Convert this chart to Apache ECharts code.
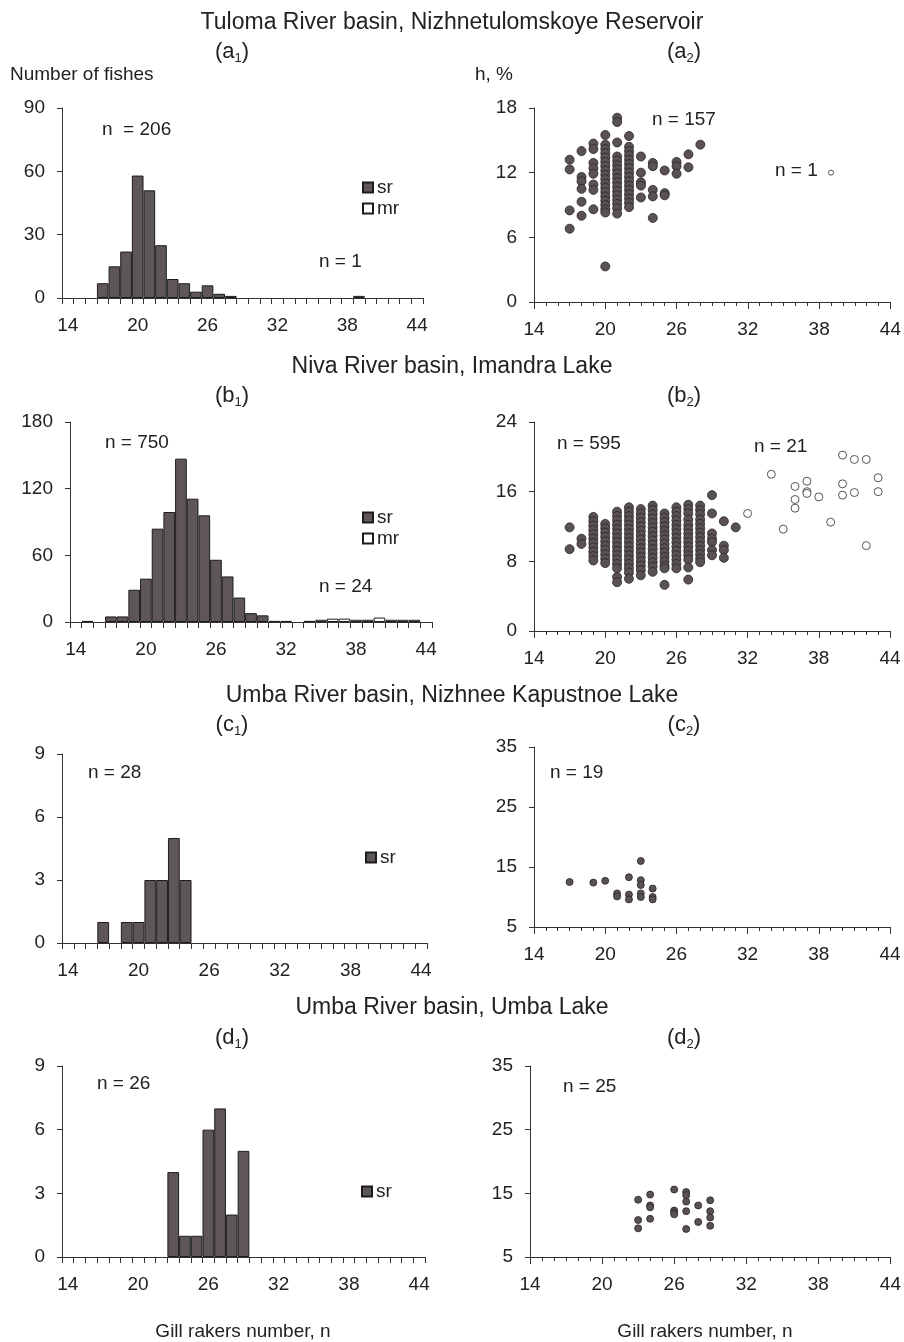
<!DOCTYPE html>
<html>
<head>
<meta charset="utf-8">
<script src="https://cdn.jsdelivr.net/npm/echarts@6/dist/echarts.min.js"></script>
<style>
html, body { margin: 0; background: #fff; }
#chart { width: 904px; height: 1342px; }
</style>
</head>
<body>
<div id="chart"></div>
<script>
// gill rakers number categories (histogram x axis)
const rakers = ['14', '15', '16', '17', '18', '19', '20', '21', '22', '23', '24', '25', '26', '27', '28', '29',
    '30', '31', '32', '33', '34', '35', '36', '37', '38', '39', '40', '41', '42', '43', '44']
const xTickLabels = [14, 20, 26, 32, 38, 44]

// histograms: [gill rakers, number of fishes]
const a1Sr = [[17, 7], [18, 15], [19, 22], [20, 58], [21, 51], [22, 25], [23, 9], [24, 7], [25, 3], [26, 6], [27, 2], [28, 1]]
const a1Mr = [[39, 1]]
const b1Sr = [[15, 1], [17, 5], [18, 5], [19, 29], [20, 39], [21, 84], [22, 99], [23, 147], [24, 111], [25, 96],
    [26, 56], [27, 41], [28, 22], [29, 8], [30, 6]]
const b1Mr = [[31, 1], [32, 1], [34, 1], [35, 2], [36, 3], [37, 3], [38, 2], [39, 2], [40, 4], [41, 2], [42, 2], [43, 2]]
const c1Sr = [[17, 1], [19, 1], [20, 1], [21, 3], [22, 3], [23, 5], [24, 3]]
const d1Sr = [[23, 4], [24, 1], [25, 1], [26, 6], [27, 7], [28, 2], [29, 5]]

// scatter: [gill rakers, h %] grouped by gill rakers number
const a2SrCols = [
    [17, [13.2, 12.3, 8.5, 6.8]],
    [18, [14.0, 11.6, 11.2, 10.5, 9.3, 8.0]],
    [19, [14.7, 14.2, 12.9, 12.4, 11.9, 10.9, 10.4, 8.6]],
    [20, [15.5, 14.6, 14.2, 13.8, 13.4, 13.0, 12.6, 12.2, 11.8, 11.4, 11.0, 10.6, 10.2, 9.8, 9.4, 9.0, 8.6, 8.3, 3.3]],
    [21, [17.1, 16.7, 14.8, 13.5, 13.1, 12.7, 12.3, 11.9, 11.5, 11.1, 10.7, 10.3, 9.9, 9.5, 9.1, 8.7, 8.2]],
    [22, [15.4, 14.4, 14.0, 13.6, 13.2, 12.8, 12.4, 12.0, 11.6, 11.2, 10.8, 10.4, 10.0, 9.6, 9.2, 8.8]],
    [23, [13.5, 12.0, 11.1, 10.8, 9.7]],
    [24, [12.9, 12.6, 10.4, 9.8, 7.8]],
    [25, [12.2, 10.1, 9.9]],
    [26, [13.0, 12.6, 11.9]],
    [27, [13.7, 12.5]],
    [28, [14.6]]
]
const a2Mr = [[39, 12.0]]

const b2SrCols = [
    [17, [11.9, 9.4]],
    [18, [10.6, 10.0]],
    [19, [13.1, 12.6, 12.1, 11.6, 11.1, 10.6, 10.1, 9.6, 9.1, 8.6, 8.1]],
    [20, [12.3, 11.8, 11.3, 10.8, 10.3, 9.8, 9.3, 8.8, 8.3, 7.8]],
    [21, [13.7, 13.2, 12.7, 12.2, 11.7, 11.2, 10.7, 10.2, 9.7, 9.2, 8.7, 8.2, 7.7, 7.2, 6.2, 5.6]],
    [22, [14.2, 13.7, 13.2, 12.7, 12.2, 11.7, 11.2, 10.7, 10.2, 9.7, 9.2, 8.7, 8.2, 7.7, 7.2, 6.7, 6.0]],
    [23, [14.0, 13.5, 13.0, 12.5, 12.0, 11.5, 11.0, 10.5, 10.0, 9.5, 9.0, 8.5, 8.0, 7.5, 7.0, 6.4]],
    [24, [14.4, 13.9, 13.4, 12.9, 12.4, 11.9, 11.4, 10.9, 10.4, 9.9, 9.4, 8.9, 8.4, 7.9, 7.4, 6.8]],
    [25, [13.5, 13.0, 12.5, 12.0, 11.5, 11.0, 10.5, 10.0, 9.5, 9.0, 8.5, 8.0, 7.5, 7.2, 5.3]],
    [26, [14.2, 13.7, 13.2, 12.7, 12.2, 11.7, 11.2, 10.7, 10.2, 9.7, 9.2, 8.7, 8.2, 7.7, 7.2]],
    [27, [14.5, 14.0, 13.5, 12.8, 12.2, 11.7, 11.2, 10.7, 10.2, 9.7, 9.2, 8.7, 8.2, 7.3, 5.9]],
    [28, [14.4, 13.9, 13.4, 12.8, 12.3, 11.8, 11.3, 10.8, 10.3, 9.8, 9.3, 8.8, 8.3, 7.9]],
    [29, [15.6, 13.5, 11.2, 10.6, 10.2, 9.3, 8.7]],
    [30, [12.6, 9.8, 9.3, 8.4]],
    [31, [11.9]]
]
const b2Mr = [[32, 13.5], [34, 18.0], [35, 11.7], [36, 16.6], [36, 15.1], [36, 14.1], [37, 17.2], [37, 16.0],
    [37, 15.8], [38, 15.4], [39, 12.5], [40, 20.2], [40, 16.9], [40, 15.6], [41, 19.7], [41, 15.9], [42, 19.7],
    [42, 9.8], [43, 17.6], [43, 16.0]]

const c2Sr = [[17, 12.5], [19, 12.4], [20, 12.7], [21, 10.6], [21, 10.1], [22, 13.3], [22, 10.4], [22, 9.6],
    [23, 16.0], [23, 12.8], [23, 12.0], [23, 10.6], [23, 10.0], [24, 11.4], [24, 10.0], [24, 9.6]]
const d2Sr = [[23, 14.0], [23, 10.8], [23, 9.5], [24, 14.8], [24, 13.1], [24, 12.8], [24, 11.0], [26, 15.6],
    [26, 12.3], [26, 12.0], [26, 11.7], [27, 15.2], [27, 14.7], [27, 13.7], [27, 12.2], [27, 9.4], [28, 13.1],
    [28, 10.5], [29, 13.9], [29, 12.2], [29, 11.2], [29, 9.9]]

const FONT = '"Liberation Sans", Arial, sans-serif'
const INK = '#222'
const AXIS = '#333'
const FILL = '#5f5757'
const EDGE = '#1c1c1c'

function flatCols(cols) {
    const out = []
    cols.forEach(([n, hs]) => hs.forEach(h => out.push([n, h])))
    return out
}

function histCounts(pairs) {
    const out = rakers.map(() => null)
    pairs.forEach(([n, c]) => {
        out[rakers.indexOf(String(n))] = c
    })
    return out
}

const allInts = []
for (let v = 14; v <= 44; v++) allInts.push(v)

// panel layout
const hists = [
    { grid: { left: 62, top: 108, width: 361, height: 190 }, yMax: 90, yStep: 30, sr: a1Sr, mr: a1Mr },
    { grid: { left: 70, top: 422, width: 362, height: 200 }, yMax: 180, yStep: 60, sr: b1Sr, mr: b1Mr },
    { grid: { left: 62, top: 754, width: 365, height: 189 }, yMax: 9, yStep: 3, sr: c1Sr, mr: null },
    { grid: { left: 62, top: 1066, width: 363, height: 191 }, yMax: 9, yStep: 3, sr: d1Sr, mr: null }
]
const scatters = [
    { grid: { left: 534, top: 108, width: 357, height: 194 }, yTicks: [0, 6, 12, 18], sr: flatCols(a2SrCols), mr: a2Mr, size: 9, mrSize: 5 },
    { grid: { left: 534, top: 422, width: 356, height: 209 }, yTicks: [0, 8, 16, 24], sr: flatCols(b2SrCols), mr: b2Mr, size: 9, mrSize: 8 },
    { grid: { left: 534, top: 747, width: 356, height: 180 }, yTicks: [5, 15, 25, 35], sr: c2Sr, mr: null, size: 7 },
    { grid: { left: 530, top: 1066, width: 362, height: 191 }, yTicks: [5, 15, 25, 35], sr: d2Sr, mr: null, size: 7 }
]

const labelStyle = { fontSize: 19, color: INK, fontFamily: FONT }
const grid = [], xAxis = [], yAxis = [], series = []

hists.forEach(p => {
    const gi = grid.length
    grid.push(p.grid)
    xAxis.push({
        gridIndex: gi, type: 'category', data: rakers, boundaryGap: true,
        axisLine: { show: true, lineStyle: { color: AXIS } },
        axisTick: { show: true, interval: 0, length: 6, lineStyle: { color: AXIS, width: 1 } },
        axisLabel: Object.assign({ interval: 5, margin: 18 }, labelStyle)
    })
    yAxis.push({
        gridIndex: gi, type: 'value', min: 0, max: p.yMax, interval: p.yStep,
        axisLine: { show: true, lineStyle: { color: AXIS } },
        axisTick: { show: true, length: 5, lineStyle: { color: AXIS, width: 1 } },
        axisLabel: Object.assign({ margin: 17 }, labelStyle),
        splitLine: { show: false }
    })
    series.push({
        name: 'sr', type: 'bar', xAxisIndex: xAxis.length - 1, yAxisIndex: yAxis.length - 1,
        data: histCounts(p.sr), barWidth: '100%', barGap: '-100%', silent: true,
        itemStyle: { color: FILL, borderColor: EDGE, borderWidth: 1 }
    })
    if (p.mr) {
        series.push({
            name: 'mr', type: 'bar', xAxisIndex: xAxis.length - 1, yAxisIndex: yAxis.length - 1,
            data: histCounts(p.mr), barWidth: '100%', barGap: '-100%', silent: true,
            itemStyle: { color: '#fff', borderColor: EDGE, borderWidth: 1 }
        })
    }
})

scatters.forEach(p => {
    const gi = grid.length
    grid.push(p.grid)
    const xi = xAxis.length
    xAxis.push({
        gridIndex: gi, type: 'value', min: 14, max: 44, position: 'bottom',
        axisLine: { show: true, lineStyle: { color: AXIS } },
        axisTick: { show: true, customValues: xTickLabels, length: 7, lineStyle: { color: AXIS } },
        axisLabel: Object.assign({ customValues: xTickLabels, margin: 18 }, labelStyle),
        splitLine: { show: false }
    })
    // minor ticks at every gill rakers number
    xAxis.push({
        gridIndex: gi, type: 'value', min: 14, max: 44, position: 'bottom',
        axisLine: { show: false },
        axisTick: { show: true, customValues: allInts, length: 4, lineStyle: { color: AXIS } },
        axisLabel: { show: false },
        splitLine: { show: false }
    })
    const yi = yAxis.length
    yAxis.push({
        gridIndex: gi, type: 'value', min: p.yTicks[0], max: p.yTicks[p.yTicks.length - 1],
        axisLine: { show: true, lineStyle: { color: AXIS } },
        axisTick: { show: true, customValues: p.yTicks, length: 5, lineStyle: { color: AXIS } },
        axisLabel: Object.assign({ customValues: p.yTicks, margin: 17 }, labelStyle),
        splitLine: { show: false }
    })
    series.push({
        name: 'srPts', type: 'scatter', xAxisIndex: xi, yAxisIndex: yi, data: p.sr,
        symbolSize: p.size, silent: true,
        itemStyle: { color: '#5a5252', borderColor: '#2a2424', borderWidth: 0.8, opacity: 1 }
    })
    if (p.mr) {
        series.push({
            name: 'mrPts', type: 'scatter', xAxisIndex: xi, yAxisIndex: yi, data: p.mr,
            symbolSize: p.mrSize, silent: true,
            itemStyle: { color: '#fff', borderColor: '#555', borderWidth: 1, opacity: 1 }
        })
    }
})

const legendBase = {
    orient: 'vertical', padding: 0, itemGap: 2, itemWidth: 10, itemHeight: 10, icon: 'rect',
    selectedMode: false, textStyle: { fontSize: 19, color: INK, fontFamily: FONT, padding: [0, 0, 0, -1] }
}
const legend = [
    Object.assign({ data: ['sr', 'mr'], left: 362, top: 178 }, legendBase),
    Object.assign({ data: ['sr', 'mr'], left: 362, top: 508 }, legendBase),
    Object.assign({ data: ['sr'], left: 365, top: 848 }, legendBase),
    Object.assign({ data: ['sr'], left: 361, top: 1182 }, legendBase)
]

function txt(text, x, y, size, align) {
    return {
        type: 'text', x: x, y: y, silent: true,
        style: {
            text: text, fill: INK, font: size + 'px ' + FONT,
            textAlign: align || 'left', textVerticalAlign: 'middle'
        }
    }
}
function panelTag(letter, idx, x, y) {
    return {
        type: 'text', x: x, y: y, silent: true,
        style: {
            text: '{m|(' + letter + '}{s|' + idx + '}{m|)}',
            textAlign: 'center', textVerticalAlign: 'middle', fill: INK,
            rich: {
                m: { fontSize: 22, fontFamily: FONT, lineHeight: 26, verticalAlign: 'middle', fill: INK },
                s: { fontSize: 13, fontFamily: FONT, lineHeight: 13, verticalAlign: 'bottom', fill: INK }
            }
        }
    }
}

const graphic = [
    txt('Tuloma River basin, Nizhnetulomskoye Reservoir', 452, 23, 23, 'center'),
    txt('Niva River basin, Imandra Lake', 452, 367, 23, 'center'),
    txt('Umba River basin, Nizhnee Kapustnoe Lake', 452, 696, 23, 'center'),
    txt('Umba River basin, Umba Lake', 452, 1008, 23, 'center'),
    panelTag('a', 1, 232, 52), panelTag('a', 2, 684, 52),
    panelTag('b', 1, 232, 396), panelTag('b', 2, 684, 396),
    panelTag('c', 1, 232, 725), panelTag('c', 2, 684, 725),
    panelTag('d', 1, 232, 1038), panelTag('d', 2, 684, 1038),
    txt('Number of fishes', 10, 75, 19),
    txt('h, %', 475, 75, 19),
    txt('n  = 206', 102, 130, 19),
    txt('n = 1', 319, 262, 19),
    txt('n = 157', 652, 120, 19),
    txt('n = 1', 775, 171, 19),
    txt('n = 750', 105, 443, 19),
    txt('n = 24', 319, 587, 19),
    txt('n = 595', 557, 444, 19),
    txt('n = 21', 754, 447, 19),
    txt('n = 28', 88, 773, 19),
    txt('n = 19', 550, 773, 19),
    txt('n = 26', 97, 1084, 19),
    txt('n = 25', 563, 1087, 19),
    txt('Gill rakers number, n', 243, 1332, 19, 'center'),
    txt('Gill rakers number, n', 705, 1332, 19, 'center')
]

const chart = echarts.init(document.getElementById('chart'))
chart.setOption({
    animation: false,
    backgroundColor: '#fff',
    textStyle: { fontFamily: FONT },
    grid: grid,
    xAxis: xAxis,
    yAxis: yAxis,
    legend: legend,
    series: series,
    graphic: graphic
})
</script>
</body>
</html>
